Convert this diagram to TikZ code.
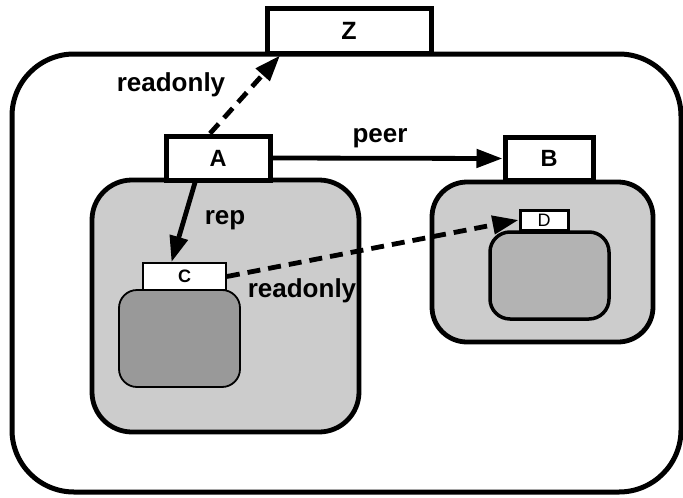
\documentclass[tikz,border=0pt]{standalone}
\usepackage{fontspec}
\setmainfont{Liberation Sans}
\usetikzlibrary{arrows.meta}
\definecolor{regiongray}{HTML}{CCCCCC}
\definecolor{darkgray}{HTML}{999999}
\definecolor{midgray}{HTML}{B3B3B3}
\begin{document}
\begin{tikzpicture}[x=1pt,y=-1pt,
  objbox/.style={draw, line width=5pt, fill=white, inner sep=0pt,
    font=\fontsize{23.5}{23.5}\selectfont\bfseries},
  smallbox/.style={draw, fill=white, inner sep=0pt,
    font=\fontsize{18}{18}\selectfont},
  edgelabel/.style={anchor=base, inner sep=0pt,
    font=\fontsize{26}{26}\selectfont\bfseries},
  link/.style={line width=4.8pt, -{Triangle[length=26pt,width=18pt]}},
  weak/.style={link, dash pattern=on 13pt off 8pt}]
\useasboundingbox (0,0) rectangle (683,498);

% enclosing context
\draw[line width=5pt, fill=white, rounded corners=62pt] (12,54) rectangle (681,492);

% owner regions
\draw[line width=4.8pt, fill=regiongray, rounded corners=40pt] (92,180) rectangle (359,432);
\draw[line width=1.8pt, fill=darkgray, rounded corners=18pt] (119,290) rectangle (240,387);
\draw[line width=4.8pt, fill=regiongray, rounded corners=35pt] (432,182) rectangle (653,342);
\draw[line width=3.5pt, fill=midgray, rounded corners=20pt] (490,232) rectangle (609,319);

% objects
\node[objbox, minimum width=164pt, minimum height=45pt,
  font=\fontsize{25}{25}\selectfont\bfseries] (Z) at (349,30.5) {Z};
\node[objbox, minimum width=104pt, minimum height=44pt] (A) at (218,158) {A};
\node[objbox, minimum width=88pt, minimum height=43pt] (B) at (549,158.5) {B};
\node[smallbox, line width=1.8pt, minimum width=83pt, minimum height=27pt,
  font=\fontsize{18}{18}\selectfont\bfseries] (C) at (184.5,276.5) {C};
\node[smallbox, line width=3pt, minimum width=48pt, minimum height=20pt] (D) at (544,220) {D};

% references
\draw[weak] ([xshift=-8pt]A.north) -- ([xshift=-69pt]Z.south);
\draw[link] (A.east) -- (B.west);
\draw[link] ([xshift=-23pt]A.south) -- ([xshift=-13pt]C.north);
\draw[weak] (C.east) -- (D.west);

% reference kinds
\node[edgelabel] (l1) at (171,91) {readonly};
\node[edgelabel] (l2) at (380,142) {peer};
\node[edgelabel] (l3) at (225,224) {rep};
\node[edgelabel] (l4) at (302,297) {readonly};
\end{tikzpicture}
\end{document}
